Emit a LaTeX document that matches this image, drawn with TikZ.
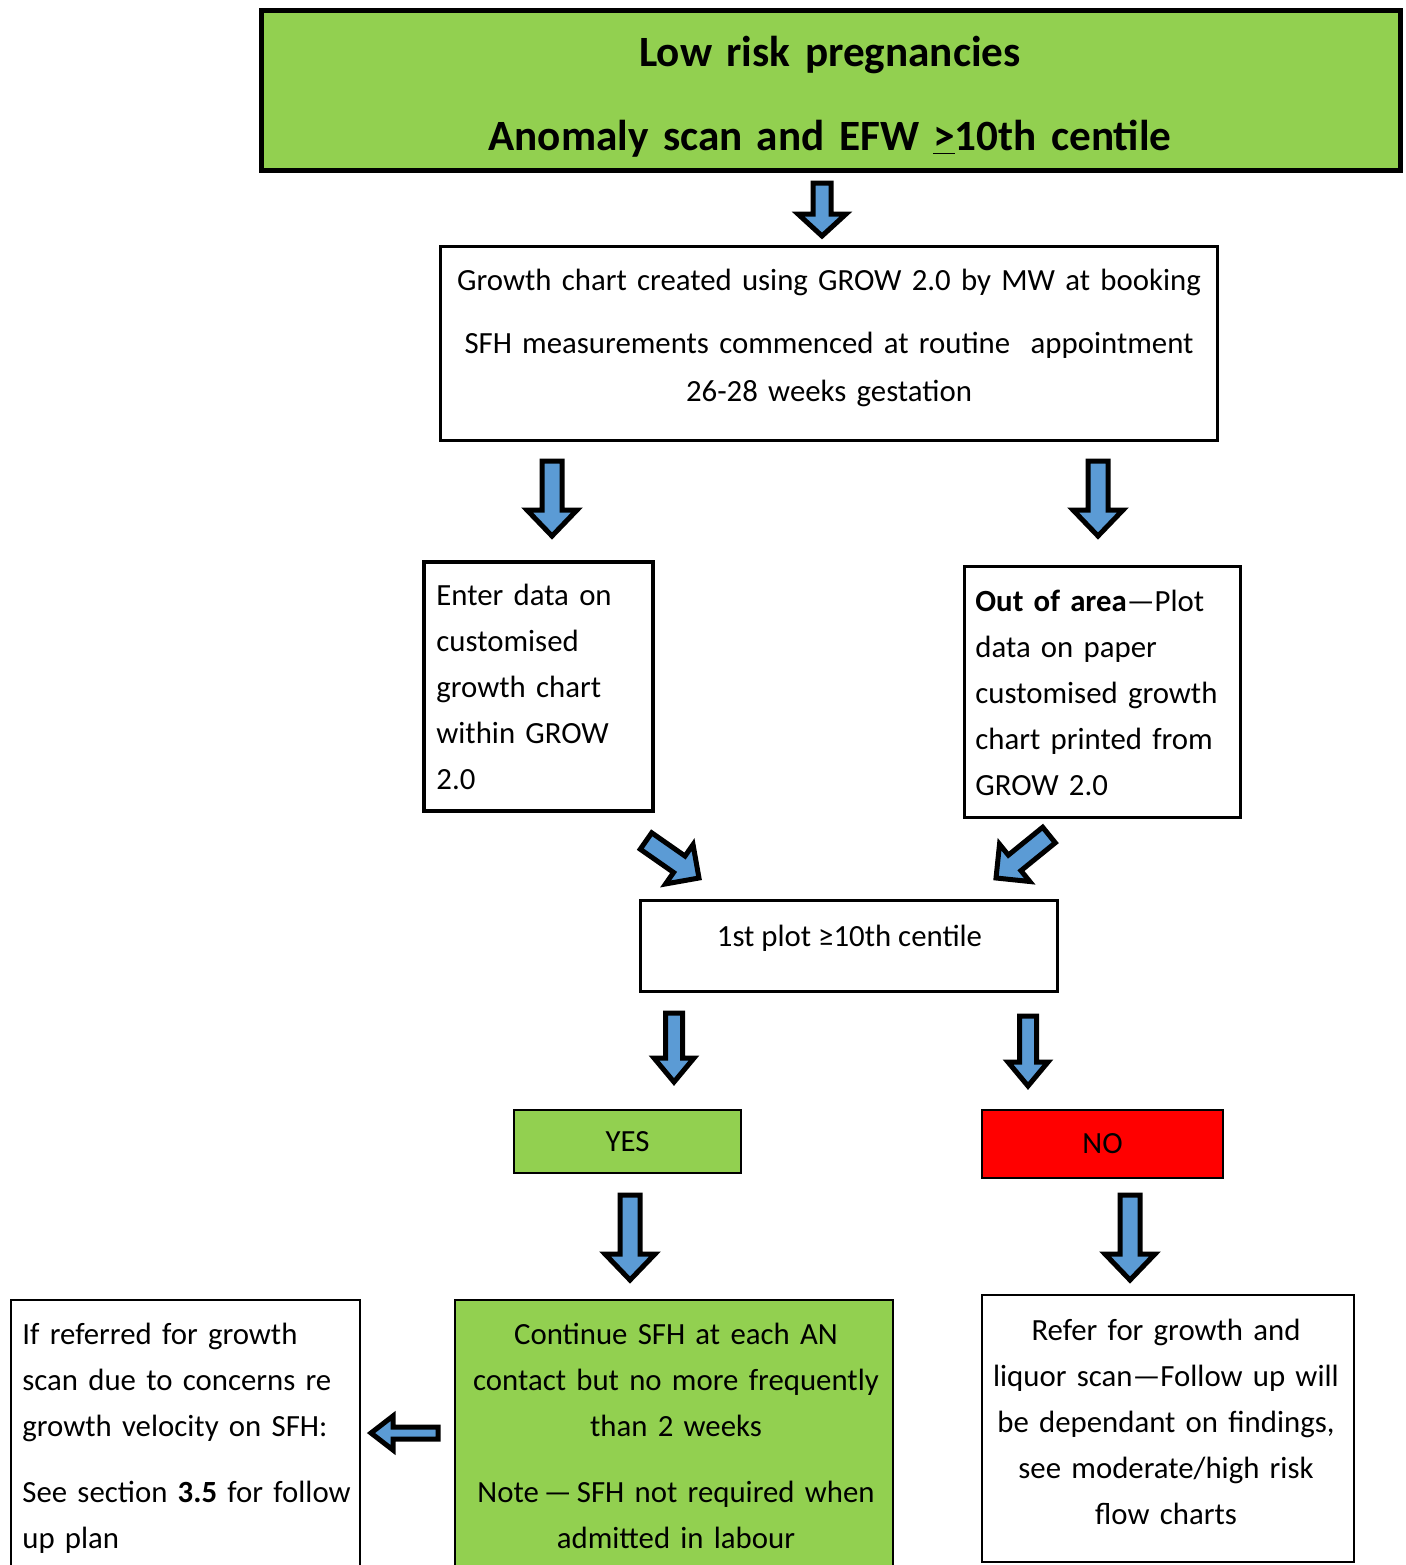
\documentclass[tikz,border=0pt]{standalone}
\usepackage{fontspec}
\setmainfont{Carlito}
\usetikzlibrary{calc}

\definecolor{leaf}{HTML}{92D050}
\definecolor{sky}{HTML}{5B9BD5}
\definecolor{alarm}{HTML}{FF0000}

% block arrow: tail, tip, half shaft, half head, head length
\newcommand\fatarrow[5]{%
  \path let \p1=(#1), \p2=(#2) in (#1) \pgfextra{%
    \pgfmathsetmacro\faang{atan2((\y2)-(\y1),(\x2)-(\x1))}\global\let\faang\faang
    \pgfmathsetmacro\falen{veclen((\x2)-(\x1),(\y2)-(\y1))}\global\let\falen\falen};
  \begin{scope}[shift={(#1)},rotate=\faang]
  \draw[blockarrow] (0pt,-#3) -- ({\falen pt-#5},-#3) -- ({\falen pt-#5},-#4)
    -- (\falen pt,0pt) -- ({\falen pt-#5},#4) -- ({\falen pt-#5},#3) -- (0pt,#3) -- cycle;
  \end{scope}}

\begin{document}
\begin{tikzpicture}[x=0.5pt,y=-0.5pt,
  box/.style={draw, line width=1.5pt, inner sep=0pt, outer sep=0pt},
  txt/.style={inner sep=0pt, font=\fontsize{15.4}{23}\selectfont, execute at begin node=\strut},
  blockarrow/.style={draw=black, fill=sky, line width=2.5pt, line join=miter}]
\clip (0,0) rectangle (1405,1565);

% top
\node[box, fill=leaf, line width=2.5pt, minimum width=569.5pt, minimum height=80pt] (top) at (830.5,90) {};
\node[txt, font=\fontsize{21.6}{42}\selectfont\bfseries, anchor=north, align=center, text width=560pt] (toptxt) at (830,7) {Low risk pregnancies\\Anomaly scan and EFW \underline{>}10th centile};

\node[box, minimum width=388.5pt, minimum height=97pt] (grow) at (828.5,343) {};
\node[txt, anchor=north, align=center, text width=400pt] (growtxt) at (829,258) {Growth chart created using GROW 2.0 by MW at booking\\[8.5pt]SFH measurements commenced at routine\ \ appointment\\[1pt]26-28 weeks gestation};

% two ways of plotting
\node[box, line width=1.6pt, minimum width=114.5pt, minimum height=124.5pt] (enter) at (538.5,686.5) {};
\node[txt, anchor=north west, align=left, text width=150pt] (entertxt) at (436,573) {Enter data on\\customised\\growth chart\\within GROW\\2.0};

\node[box, minimum width=138pt, minimum height=125.5pt] (paper) at (1102,691.5) {};
\node[txt, anchor=north west, align=left, text width=150pt] (papertxt) at (975,579) {\textbf{Out of area}—Plot\\data on paper\\customised growth\\chart printed from\\GROW 2.0};

\node[box, minimum width=208.5pt, minimum height=45.5pt] (plot) at (848.5,945.5) {};
\node[txt, anchor=north] (plottxt) at (849.5,914) {1st plot ≥10th centile};

\node[box, fill=leaf, line width=1.2pt, minimum width=113.5pt, minimum height=31.5pt, font=\fontsize{15.4}{23}\selectfont] (yes) at (627.5,1141.5) {YES};
\node[box, fill=alarm, line width=1pt, minimum width=120.5pt, minimum height=34pt, font=\fontsize{15.4}{23}\selectfont] (no) at (1102.5,1144) {NO};

% bottom row
\node[box, line width=1.2pt, minimum width=174.5pt, minimum height=150pt] (refer) at (185.5,1450) {};
\node[txt, anchor=north west, align=left, text width=180pt] (refertxt) at (22,1312) {If referred for growth\\scan due to concerns re\\growth velocity on SFH:\\[10pt]See section \textbf{3.5} for follow\\up plan};

\node[box, fill=leaf, line width=1.2pt, minimum width=219pt, minimum height=150pt] (cont) at (674,1450) {};
\node[txt, anchor=north, align=center, text width=230pt] (conttxt) at (676,1312) {Continue SFH at each AN\\contact but no more frequently\\than 2 weeks\\[10pt]Note\,—\,SFH not required when\\admitted in labour};

\node[box, line width=1.2pt, minimum width=186pt, minimum height=133.5pt] (follow) at (1168,1428.5) {};
\node[txt, anchor=north, align=center, text width=200pt] (followtxt) at (1166,1308) {Refer for growth and\\liquor scan—Follow up will\\be dependant on findings,\\see moderate/high risk\\flow charts};

% arrow ends
\coordinate (a1t) at (822,183);  \coordinate (a1h) at (822,236);
\coordinate (a2t) at (552,461);  \coordinate (a2h) at (552,536);
\coordinate (a3t) at (1098,461); \coordinate (a3h) at (1098,536);
\coordinate (a4t) at (646,841);  \coordinate (a4h) at (699,878);
\coordinate (a5t) at (1049,835); \coordinate (a5h) at (996,878);
\coordinate (a6t) at (674,1013); \coordinate (a6h) at (674,1082);
\coordinate (a7t) at (1028,1016);\coordinate (a7h) at (1028,1086);
\coordinate (a8t) at (630,1195); \coordinate (a8h) at (630,1280);
\coordinate (a9t) at (1130,1195);\coordinate (a9h) at (1130,1280);
\coordinate (a10t) at (438,1433);\coordinate (a10h) at (371,1433);

\foreach \a/\b/\s/\h/\l in {a1t/a1h/4.5pt/12pt/11pt, a2t/a2h/5pt/12.5pt/13pt, a3t/a3h/5pt/12.5pt/13pt,
  a4t/a4h/5pt/12pt/12pt, a5t/a5h/5pt/12pt/12pt, a6t/a6h/4.25pt/10pt/12pt, a7t/a7h/4.25pt/10pt/12pt,
  a8t/a8h/5pt/12.5pt/13pt, a9t/a9h/5pt/12.5pt/13pt, a10t/a10h/3pt/8.5pt/11pt}
  \fatarrow{\a}{\b}{\s}{\h}{\l};
\end{tikzpicture}
\end{document}
